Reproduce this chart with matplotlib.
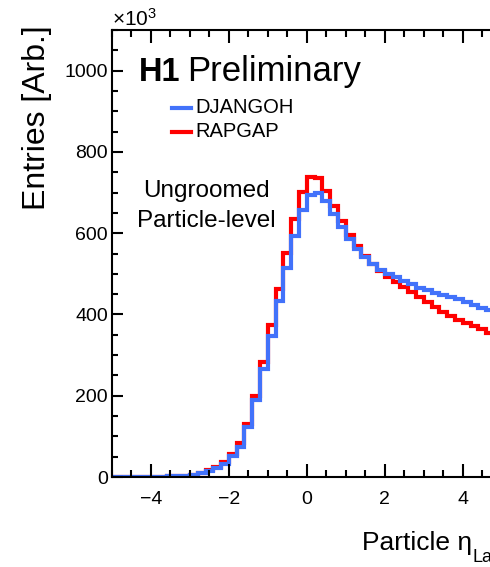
import numpy as np
import matplotlib
matplotlib.use("Agg")
import matplotlib.pyplot as plt
from matplotlib.ticker import MultipleLocator

plt.rcParams['font.family'] = ['Liberation Sans', 'DejaVu Sans']
plt.rcParams['mathtext.fontset'] = 'custom'
plt.rcParams['mathtext.rm'] = 'Liberation Sans'
plt.rcParams['mathtext.it'] = 'Liberation Sans:italic'

# bin edges in particle eta (width 0.2)
edges = np.linspace(-5.0, 4.8, 50)

# entries per bin, in units of 10^3
djangoh = [0.2, 0.3, 0.4, 0.5, 0.6, 0.8, 1.0, 1.4, 2.0, 2.8,
           5, 9, 15, 21, 32, 52, 75, 124, 190, 265,
           346, 432, 514, 594, 658, 695, 699, 678, 648, 615,
           586, 561, 541, 524, 510, 500, 491, 483, 474, 466,
           460, 454, 448, 443, 437, 430, 424, 417, 410]
rapgap = [0.2, 0.3, 0.4, 0.5, 0.7, 0.9, 1.2, 1.6, 2.2, 3.2,
          6, 11, 17, 24, 36, 57, 83, 130, 200, 284,
          373, 462, 551, 635, 701, 738, 736, 704, 667, 631,
          596, 569, 545, 525, 508, 492, 480, 467, 455, 443,
          431, 419, 407, 396, 387, 379, 371, 363, 355]

blue = '#4272FA'
red = '#FF0000'

W, H = 490, 567
fig = plt.figure(figsize=(4.9, 5.67), dpi=100)
ax = fig.add_axes([112/W, 90/H, 1 - 112/W, 447/H])

ax.stairs(rapgap, edges, color=red, lw=3)
ax.stairs(djangoh, edges, color=blue, lw=3)

ax.set_xlim(-5, 4.7)
ax.set_ylim(0, 1100)
ax.spines['right'].set_visible(False)
for s in ['left', 'bottom', 'top']:
    ax.spines[s].set_linewidth(1.5)

ax.xaxis.set_major_locator(MultipleLocator(2))
ax.xaxis.set_minor_locator(MultipleLocator(0.5))
ax.yaxis.set_major_locator(MultipleLocator(200))
ax.yaxis.set_minor_locator(MultipleLocator(50))
ax.tick_params(which='both', direction='in', top=True, right=False, width=1.5)
ax.tick_params(axis='x', which='major', length=9.5, pad=10, labelsize=14)
ax.tick_params(axis='x', which='minor', length=5)
ax.tick_params(axis='y', which='major', length=8, pad=3, labelsize=14)
ax.tick_params(axis='y', which='minor', length=4.5)

fig.text(112/W, 1 - 19/H, r'$\times$10$^{3}$', fontsize=15, ha='left', va='center')
fig.text(37/W, 1 - 118/H, 'Entries [Arb.]', fontsize=23, rotation=90,
         ha='center', va='center')

fig.text(139/W, 1 - 81/H, 'H1', fontsize=23.5, fontweight='bold', ha='left', va='baseline')
fig.text(187/W, 1 - 81/H, 'Preliminary', fontsize=25, ha='left', va='baseline')

# legend
for yl, lab, col in [(108, 'DJANGOH', blue), (132, 'RAPGAP', red)]:
    fig.add_artist(plt.Line2D([172/W, 191/W], [1 - yl/H, 1 - yl/H], color=col, lw=3))
    fig.text(195/W, 1 - (yl + 5)/H, lab, fontsize=14.5, ha='left', va='baseline')

fig.text(206/W, 1 - 197/H, 'Ungroomed', fontsize=17.5, ha='center', va='baseline')
fig.text(206/W, 1 - 227/H, 'Particle-level', fontsize=17.5, ha='center', va='baseline')

fig.text(362/W, 1 - 550/H, 'Particle η', fontsize=19, ha='left', va='baseline')
fig.text(472/W, 1 - 562/H, 'Lab', fontsize=13, ha='left', va='baseline')

fig.savefig('out.png', dpi=100)
